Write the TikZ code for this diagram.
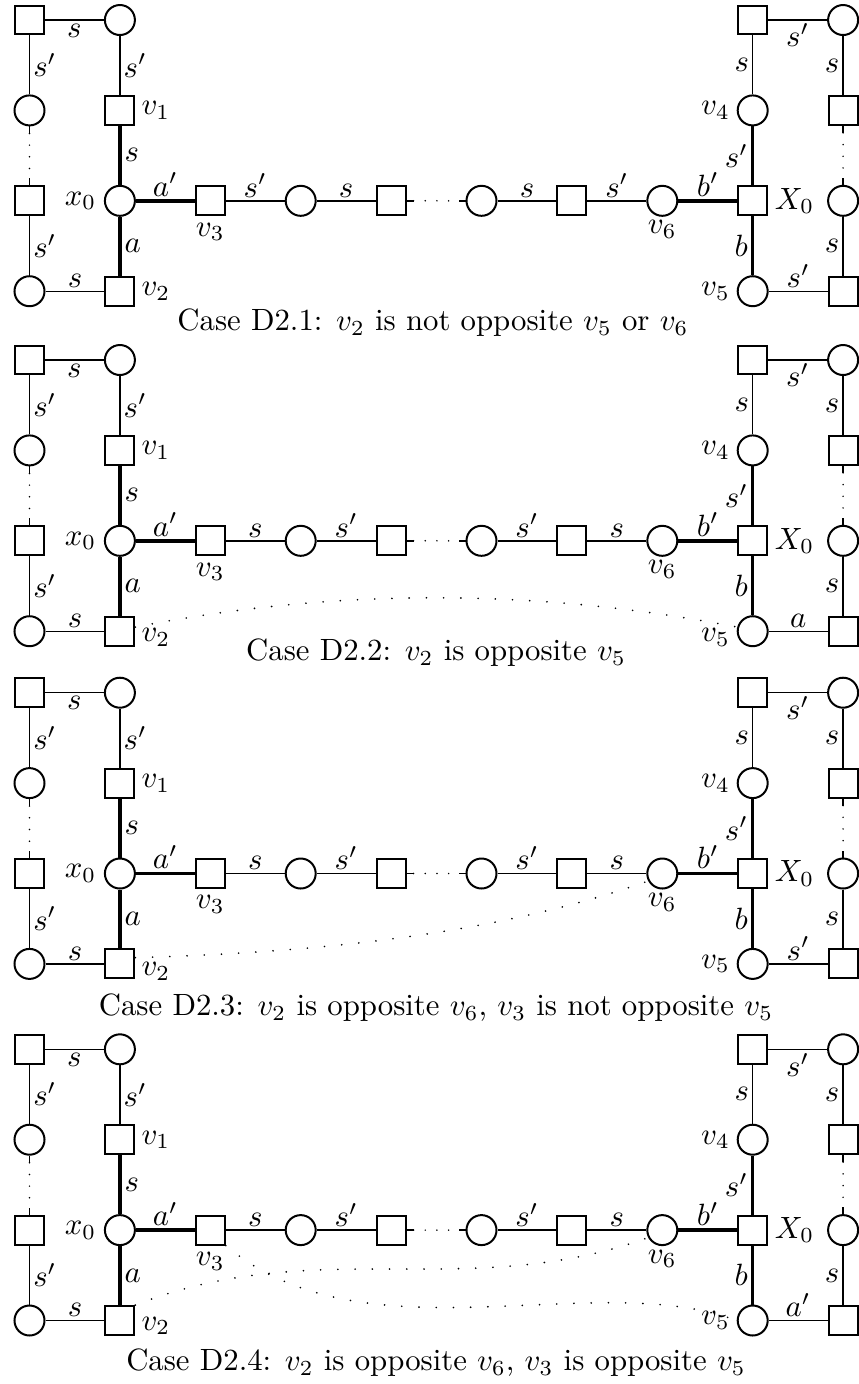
\documentclass[tikz,border=0pt]{standalone}
\usetikzlibrary{calc}
\tikzset{
 sq/.style={draw, rectangle, minimum size=9.4pt, inner sep=0pt, line width=0.65pt, fill=white},
 ci/.style={draw, circle, minimum size=9.75pt, inner sep=0pt, line width=0.65pt, fill=white},
 lbl/.style={inner sep=1pt},
 thinedge/.style={line width=0.45pt},
 heavy/.style={line width=1.1pt},
 chaindots/.style={line width=0.55pt, line cap=round, dash pattern=on 0pt off 3.8pt},
 curvedots/.style={line width=0.6pt, line cap=round, dash pattern=on 0pt off 5.6pt},
}
\newcommand{\drawpanel}[9]{%
\begin{scope}[shift={(0,#2)}]
\node[sq] (#1a) at (29.5,20) {};
\node[ci] (#1b) at (119.9,20) {};
\node[ci] (#1c) at (29.5,110.4) {};
\node[sq] (#1d) at (29.5,200.8) {};
\node[ci] (#1e) at (29.5,291.2) {};
\node[sq] (#1v1) at (119.9,110.4) {};
\node[ci] (#1x) at (119.9,200.8) {};
\node[sq] (#1v2) at (119.9,291.2) {};
\node[sq] (#1v3) at (210.3,200.8) {};
\node[ci] (#1f) at (300.7,200.8) {};
\node[sq] (#1g) at (391.1,200.8) {};
\node[ci] (#1h) at (481.5,200.8) {};
\node[sq] (#1i) at (571.9,200.8) {};
\node[ci] (#1v6) at (662.3,200.8) {};
\node[sq] (#1X) at (752.7,200.8) {};
\node[sq] (#1j) at (752.7,20) {};
\node[ci] (#1k) at (843.1,20) {};
\node[ci] (#1v4) at (752.7,110.4) {};
\node[sq] (#1l) at (843.1,110.4) {};
\node[ci] (#1m) at (843.1,200.8) {};
\node[ci] (#1v5) at (752.7,291.2) {};
\node[sq] (#1n) at (843.1,291.2) {};
\node[lbl, anchor=west, xshift=0.8pt] (#1Lv1) at (#1v1.east) {$v_1$};
\node[lbl, anchor=east, xshift=-1.3pt] (#1Lx) at (#1x.west) {$x_0$};
\node[lbl, anchor=west, xshift=0.8pt, yshift=#8] (#1Lv2) at (#1v2.east) {$v_2$};
\node[lbl, anchor=north, yshift=-1pt] (#1Lv3) at (#1v3.south) {$v_3$};
\node[lbl, anchor=north] (#1Lv6) at (#1v6.south) {$v_6$};
\node[lbl, anchor=west, xshift=1pt] (#1LX) at (#1X.east) {$X_0$};
\node[lbl, anchor=east, xshift=-1pt] (#1Lv4) at (#1v4.west) {$v_4$};
\node[lbl, anchor=east, xshift=-1pt, yshift=#9] (#1Lv5) at (#1v5.west) {$v_5$};
\draw[thinedge] (#1a) -- node[lbl, below] (#1ea) {$s$} (#1b);
\draw[thinedge] (#1a) -- node[lbl, right] (#1eb) {$s'$} (#1c);
\draw[thinedge] (#1d) -- node[lbl, right] (#1ec) {$s'$} (#1e);
\draw[thinedge] (#1e) -- node[lbl, above] (#1ed) {$s$} (#1v2);
\draw[thinedge] (#1b) -- node[lbl, right] (#1ee) {$s'$} (#1v1);
\draw[heavy] (#1v1) -- node[lbl, right] (#1ef) {$s$} (#1x);
\draw[heavy] (#1x) -- node[lbl, right] (#1eg) {$a$} (#1v2);
\draw[heavy] (#1x) -- node[lbl, above] (#1eh) {$a'$} (#1v3);
\draw[thinedge] (#1v3) -- node[lbl, above] (#1ei) {#3} (#1f);
\draw[thinedge] (#1f) -- node[lbl, above] (#1ej) {#4} (#1g);
\draw[thinedge] (#1h) -- node[lbl, above] (#1ek) {#5} (#1i);
\draw[thinedge] (#1i) -- node[lbl, above] (#1el) {#6} (#1v6);
\draw[heavy] (#1v6) -- node[lbl, above] (#1em) {$b'$} (#1X);
\draw[thinedge] (#1j) -- node[lbl, below] (#1en) {$s'$} (#1k);
\draw[thinedge] (#1j) -- node[lbl, left] (#1eo) {$s$} (#1v4);
\draw[heavy] (#1v4) -- node[lbl, left] (#1ep) {$s'$} (#1X);
\draw[heavy] (#1X) -- node[lbl, left] (#1eq) {$b$} (#1v5);
\draw[thinedge] (#1v5) -- node[lbl, above] (#1er) {#7} (#1n);
\draw[thinedge] (#1k) -- node[lbl, left] (#1es) {$s$} (#1l);
\draw[thinedge] (#1m) -- node[lbl, left] (#1et) {$s$} (#1n);
% dotted runs with short solid stubs
\draw[thinedge] (#1c.south) -- ++(0,7) coordinate (#1c1);
\draw[thinedge] (#1d.north) -- ++(0,-7) coordinate (#1d1);
\draw[chaindots] (#1c1) -- (#1d1);
\draw[thinedge] (#1l.south) -- ++(0,7) coordinate (#1l1);
\draw[thinedge] (#1m.north) -- ++(0,-7) coordinate (#1m1);
\draw[chaindots] (#1l1) -- (#1m1);
\draw[thinedge] (#1g.east) -- ++(7,0) coordinate (#1g1);
\draw[thinedge] (#1h.west) -- ++(-7,0) coordinate (#1h1);
\draw[chaindots] (#1g1) -- (#1h1);
\end{scope}}
\begin{document}
\begin{tikzpicture}[x=0.325pt, y=-0.325pt]
\useasboundingbox (0,0) rectangle (858,1384);
\drawpanel{p1}{0}{$s'$}{$s$}{$s$}{$s'$}{$s'$}{0pt}{0pt}
\drawpanel{p2}{340}{$s$}{$s'$}{$s'$}{$s$}{$a$}{-2pt}{-2pt}
\drawpanel{p3}{672.7}{$s$}{$s'$}{$s'$}{$s$}{$s'$}{-2.5pt}{0pt}
\drawpanel{p4}{1029.3}{$s$}{$s'$}{$s'$}{$s$}{$a'$}{-1.7pt}{0pt}
% opposite relations
\draw[curvedots] (p2v2.15) .. controls (335,588) and (535,588) .. (p2v5.165);
\draw[curvedots] (p3v2.22) .. controls (335,952) and (506,931) .. (p3v6.208);
\draw[curvedots] (p4v2.north east) .. controls (317,1234) and (467,1302.5) .. (p4v6.208);
\draw[curvedots] (p4v3.south east) .. controls (365,1363) and (594,1267) .. (p4v5.west);
% captions
\node (cap1) at (433,323) {Case D2.1: $v_2$ is not opposite $v_5$ or $v_6$};
\node (cap2) at (436,653) {Case D2.2: $v_2$ is opposite $v_5$};
\node (cap3) at (436,1008) {Case D2.3: $v_2$ is opposite $v_6$, $v_3$ is not opposite $v_5$};
\node (cap4) at (436,1363) {Case D2.4: $v_2$ is opposite $v_6$, $v_3$ is opposite $v_5$};
\end{tikzpicture}
\end{document}
